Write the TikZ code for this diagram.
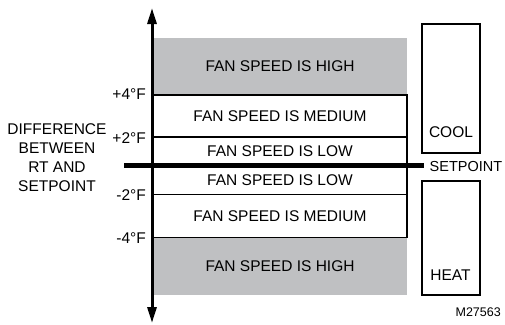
\documentclass[tikz,border=0pt]{standalone}
\usepackage{fontspec}
\setmainfont{Liberation Sans}
\usetikzlibrary{arrows.meta}
\definecolor{fangray}{RGB}{191,192,194}
\tikzset{
  fanbox/.style={draw=black, line width=1.3pt, fill=white, minimum width=254pt, inner sep=0pt, font=\fontsize{15.5}{18}\selectfont},
  grayfan/.style={fill=fangray, minimum width=254pt, inner sep=0pt, font=\fontsize{15.5}{18}\selectfont},
  modebox/.style={draw=black, line width=1.3pt, minimum width=58pt, inner sep=0pt},
  lbl/.style={inner sep=0pt, font=\fontsize{15.5}{18}\selectfont},
  axis/.style={line width=3pt, {Triangle[length=16pt,width=9pt]}-{Triangle[length=16pt,width=9pt]}},
}
\begin{document}
\begin{tikzpicture}[x=1pt,y=-1pt]
\useasboundingbox (0,0) rectangle (505,324);
% fan speed bands
\node[grayfan, minimum height=57pt] (hightop) at (280,66.5) {FAN SPEED IS HIGH};
\node[fanbox, minimum height=42pt] (medtop) at (280,116) {FAN SPEED IS MEDIUM};
\node[fanbox, minimum height=28pt] (lowtop) at (280,151) {FAN SPEED IS LOW};
\node[fanbox, minimum height=28pt] (lowbot) at (280,180.5) {FAN SPEED IS LOW};
\node[fanbox, minimum height=43.5pt] (medbot) at (280,216) {FAN SPEED IS MEDIUM};
\node[grayfan, minimum height=57pt] (highbot) at (280,266.5) {FAN SPEED IS HIGH};
% cool / heat
\node[modebox, minimum height=129pt] (cool) at (451,88.5) {};
\node[lbl] (cooltxt) at (451,131.7) {COOL};
\node[modebox, minimum height=114pt] (heat) at (451,238) {};
\node[lbl] (heattxt) at (450.5,275) {HEAT};
% axis
\coordinate (axtop) at (152,8);
\coordinate (axbot) at (152,323);
\draw[axis] (axbot) -- (axtop);
% setpoint line
\coordinate (spl) at (124,165.5);
\coordinate (spr) at (424,165.5);
\draw[line width=5.5pt] (spl) -- (spr);
\node[lbl, anchor=west, font=\fontsize{14.5}{17}\selectfont] (sptxt) at (429.5,167) {SETPOINT};
% tick labels
\node[lbl, anchor=east] (p4) at (146,94.5) {+4°F};
\node[lbl, anchor=east] (p2) at (146,138) {+2°F};
\node[lbl, anchor=east] (m2) at (146,195) {-2°F};
\node[lbl, anchor=east] (m4) at (146,238) {-4°F};
% left caption
\node[lbl, align=center, font=\fontsize{15.5}{18.9}\selectfont] (caption) at (57,157.8) {DIFFERENCE\\BETWEEN\\RT AND\\SETPOINT};
% figure id
\node[inner sep=0pt, anchor=east, font=\fontsize{12.5}{14}\selectfont] (fig) at (501,312.5) {M27563};
\end{tikzpicture}
\end{document}
